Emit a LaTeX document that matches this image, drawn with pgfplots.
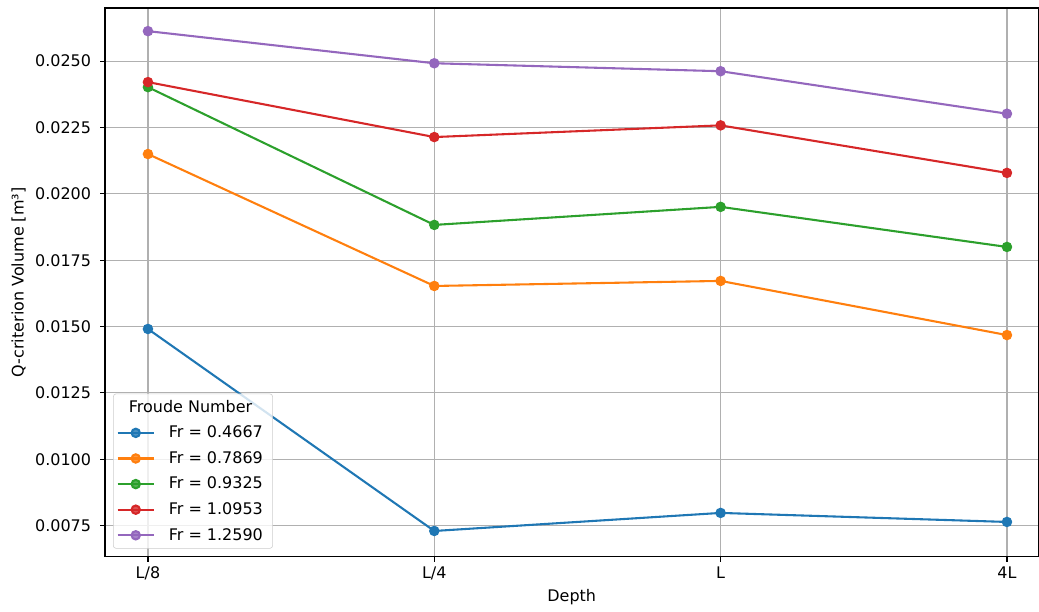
\documentclass[border=0pt]{standalone}
\usepackage{pgfplots}
\pgfplotsset{compat=1.18}
\usepackage{fontspec}
\setmainfont{DejaVu Sans}
\definecolor{c0}{HTML}{1F77B4}
\definecolor{c1}{HTML}{FF7F0E}
\definecolor{c2}{HTML}{2CA02C}
\definecolor{c3}{HTML}{D62728}
\definecolor{c4}{HTML}{9467BD}
\newcommand\lent[1]{#1\hspace*{3pt}}
\begin{document}
\begin{tikzpicture}
\begin{axis}[
  scale only axis,
  width=672pt, height=395pt,
  xmin=-0.15, xmax=3.11,
  ymin=0.00633, ymax=0.0270,
  xtick={0,1,2,3},
  xticklabels={L/8,L/4,L,4L},
  ytick={0.0075,0.01,0.0125,0.015,0.0175,0.02,0.0225,0.025},
  tick label style={font=\fontsize{11.5}{13}\selectfont},
  yticklabel style={xshift=-3pt, /pgf/number format/.cd,fixed,fixed zerofill,precision=4,assume math mode=true},
  scaled y ticks=false,
  xtick pos=left, ytick pos=left,
  grid=major,
  major grid style={color=black!31, line width=0.8pt},
  axis line style={line width=0.8pt},
  tick style={black, line width=0.8pt},
  tick align=outside,
  major tick length=3.5pt,
  label style={font=\fontsize{11.5}{13}\selectfont},
  xlabel={Depth},
  ylabel={Q-criterion Volume [m³]},
  every axis plot/.append style={line width=1.5pt, mark=*, mark size=3pt},
  legend image code/.code={\draw[mark repeat=2,mark phase=2] plot coordinates {(0pt,0pt) (13pt,0pt) (26pt,0pt)};},
  legend style={at={(0.0086,0.0147)}, anchor=south west, draw=black!20, rounded corners=2pt,
    font=\fontsize{11.5}{13}\selectfont, row sep=8.4pt, column sep=8.5pt, inner xsep=2.4pt, inner ysep=4.4pt,
    nodes={inner xsep=1.6pt, inner ysep=0pt},
    fill opacity=0.8, text opacity=1},
  legend cell align=left,
]
\addlegendimage{empty legend}
\addlegendentry{\hspace{-28.8pt}Froude Number}
\addplot[c0, mark options={fill=c0}] coordinates {(0,0.01491) (1,0.00730) (2,0.00798) (3,0.00764)};
\addlegendentry{\lent{Fr = 0.4667}}
\addplot[c1, mark options={fill=c1}] coordinates {(0,0.02150) (1,0.01653) (2,0.01672) (3,0.01468)};
\addlegendentry{\lent{Fr = 0.7869}}
\addplot[c2, mark options={fill=c2}] coordinates {(0,0.02402) (1,0.01883) (2,0.01951) (3,0.01800)};
\addlegendentry{\lent{Fr = 0.9325}}
\addplot[c3, mark options={fill=c3}] coordinates {(0,0.02421) (1,0.02214) (2,0.02258) (3,0.02079)};
\addlegendentry{\lent{Fr = 1.0953}}
\addplot[c4, mark options={fill=c4}] coordinates {(0,0.02613) (1,0.02492) (2,0.02462) (3,0.02302)};
\addlegendentry{\lent{Fr = 1.2590}}
\end{axis}
\pgfresetboundingbox
\useasboundingbox ([xshift=-75.6pt,yshift=-39.6pt]current axis.south west) rectangle ([xshift=0.4pt,yshift=5.8pt]current axis.north east);
\end{tikzpicture}
\end{document}
